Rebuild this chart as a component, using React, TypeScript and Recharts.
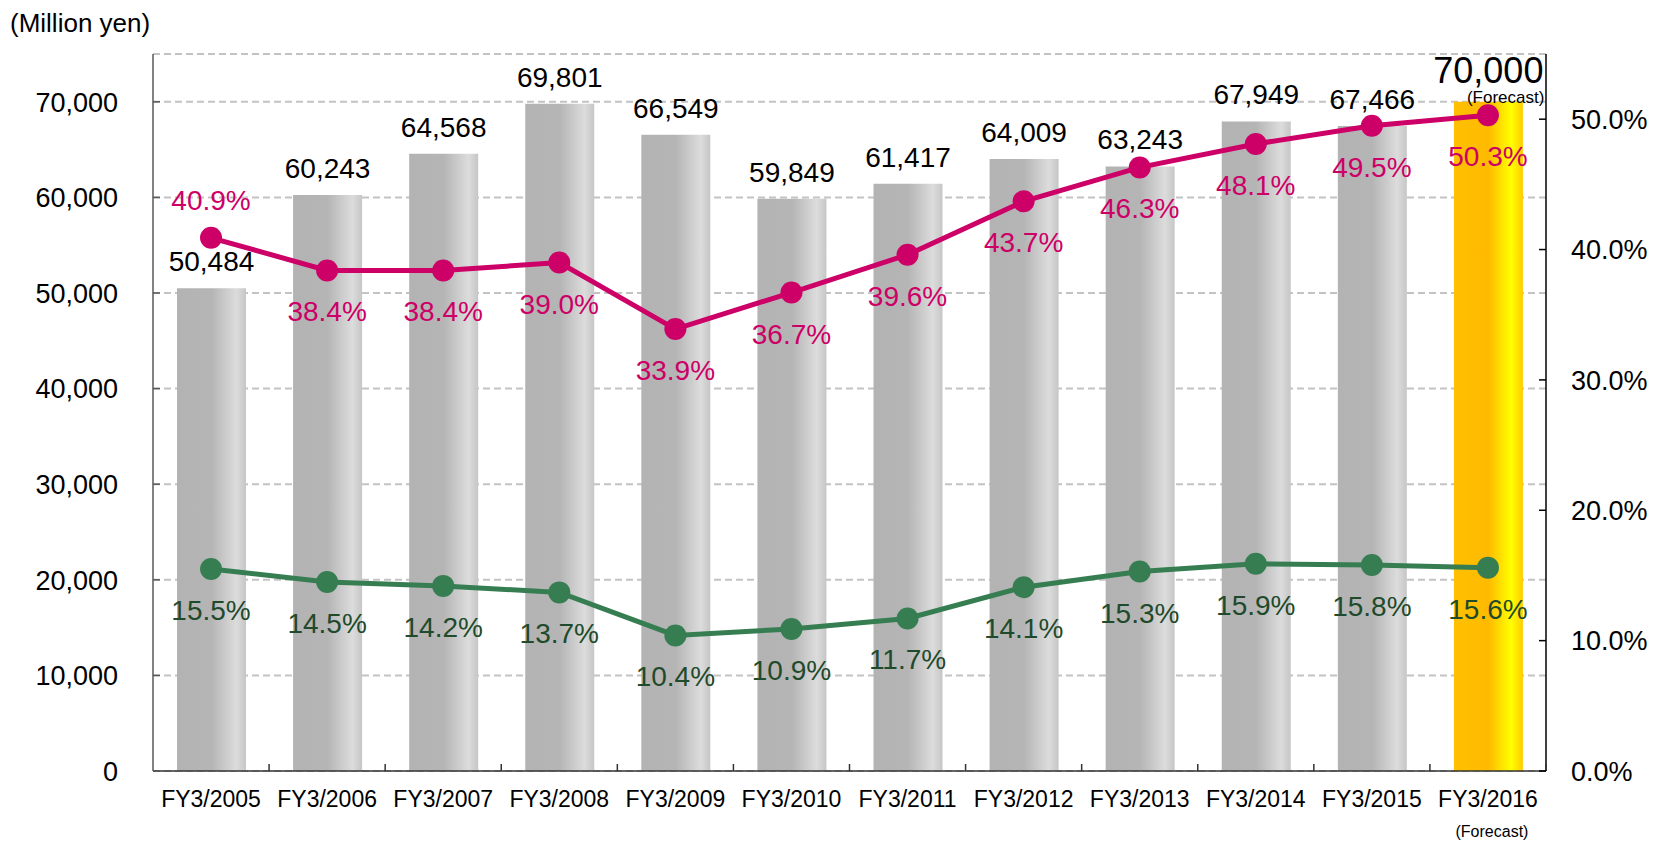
import {
  ComposedChart,
  Bar,
  Line,
  XAxis,
  YAxis,
  CartesianGrid,
  LabelList,
  Cell,
} from "recharts";

const years = [
  "FY3/2005",
  "FY3/2006",
  "FY3/2007",
  "FY3/2008",
  "FY3/2009",
  "FY3/2010",
  "FY3/2011",
  "FY3/2012",
  "FY3/2013",
  "FY3/2014",
  "FY3/2015",
  "FY3/2016",
];
const netSales = [
  50484, 60243, 64568, 69801, 66549, 59849, 61417, 64009, 63243, 67949, 67466,
  70000,
];
const grossRatio = [
  40.9, 38.4, 38.4, 39.0, 33.9, 36.7, 39.6, 43.7, 46.3, 48.1, 49.5, 50.3,
];
const operatingRatio = [
  15.5, 14.5, 14.2, 13.7, 10.4, 10.9, 11.7, 14.1, 15.3, 15.9, 15.8, 15.6,
];
const salesTicks = [0, 10000, 20000, 30000, 40000, 50000, 60000, 70000];
const ratioTicks = [0, 10, 20, 30, 40, 50];
const forecastIndex = 11;

const data = years.map((year, i) => ({
  year,
  sales: netSales[i],
  gross: grossRatio[i],
  operating: operatingRatio[i],
}));

const W = 1662;
const H = 844;
const PLOT_LEFT = 153;
const PLOT_RIGHT = 1546;
const PLOT_TOP = 54;
const PLOT_BOTTOM = 771;
const BAND = (PLOT_RIGHT - PLOT_LEFT) / years.length;
const FONT = "'Liberation Sans', Arial, Helvetica, sans-serif";

const PINK = "#cc0066";
const GREEN = "#367e52";
const GREEN_TEXT = "#1f4a2b";

function LeftTick(props: any) {
  const { y, payload } = props;
  return (
    <g>
      <line x1={PLOT_LEFT} x2={PLOT_LEFT + 7} y1={y} y2={y} stroke="#595959" strokeWidth={1.5} />
      <text x={118} y={y} dy="0.36em" textAnchor="end" fontSize={27} fill="#000">
        {Number(payload.value).toLocaleString("en-US")}
      </text>
    </g>
  );
}

function RightTick(props: any) {
  const { y, payload } = props;
  return (
    <g>
      <line x1={PLOT_RIGHT - 7} x2={PLOT_RIGHT} y1={y} y2={y} stroke="#000" strokeWidth={1.5} />
      <text x={1571} y={y} dy="0.36em" textAnchor="start" fontSize={27} fill="#000">
        {Number(payload.value).toFixed(1)}%
      </text>
    </g>
  );
}

function XTick(props: any) {
  const { x, payload, index } = props;
  return (
    <g>
      <line
        x1={x + BAND / 2}
        x2={x + BAND / 2}
        y1={PLOT_BOTTOM}
        y2={PLOT_BOTTOM - 7}
        stroke="#333"
        strokeWidth={1.5}
      />
      <text x={x} y={807} textAnchor="middle" fontSize={23} fill="#000">
        {payload.value}
      </text>
      {index === forecastIndex && (
        <text x={x + 4} y={837} textAnchor="middle" fontSize={16} fill="#000">
          (Forecast)
        </text>
      )}
    </g>
  );
}

function SalesLabel(props: any) {
  const x = Number(props.x);
  const y = Number(props.y);
  const width = Number(props.width);
  const { value, index } = props;
  const cx = x + width / 2;
  const txt = Number(value).toLocaleString("en-US");
  if (index === forecastIndex) {
    return (
      <g>
        <text x={cx + 55} y={y - 19} textAnchor="end" fontSize={36} fill="#000">
          {txt}
        </text>
        <text x={cx + 56} y={y + 1} textAnchor="end" fontSize={17} fill="#000">
          (Forecast)
        </text>
      </g>
    );
  }
  return (
    <text x={cx} y={y - 17} textAnchor="middle" fontSize={28} fill="#000">
      {txt}
    </text>
  );
}

const ratioLabel = (color: string, above: number[]) => (props: any) => {
  const x = Number(props.x);
  const y = Number(props.y);
  const { value, index } = props;
  return (
    <text
      x={x}
      y={above.includes(index) ? y - 28 : y + 51}
      textAnchor="middle"
      fontSize={28}
      fill={color}
    >
      {Number(value).toFixed(1)}%
    </text>
  );
};

export default function App() {
  return (
    <div
      style={{
        position: "absolute",
        left: 0,
        top: 0,
        width: W,
        height: H,
        background: "#fff",
        fontFamily: FONT,
      }}
    >
      <div
        style={{
          position: "absolute",
          left: 10,
          top: 10,
          fontSize: 26,
          lineHeight: 1,
          color: "#000",
          whiteSpace: "nowrap",
        }}
      >
        (Million yen)
      </div>
      <ComposedChart
        width={W}
        height={H}
        data={data}
        margin={{ top: PLOT_TOP, right: 0, bottom: 0, left: 0 }}
      >
        <defs>
          <linearGradient id="grayBar" x1="0" y1="0" x2="1" y2="0">
            <stop offset="0" stopColor="#b3b3b3" />
            <stop offset="0.5" stopColor="#b5b5b5" />
            <stop offset="0.86" stopColor="#dcdcdc" />
            <stop offset="1" stopColor="#c6c6c6" />
          </linearGradient>
          <linearGradient id="forecastBar" x1="0" y1="0" x2="1" y2="0">
            <stop offset="0" stopColor="#ffc000" />
            <stop offset="0.5" stopColor="#ffba00" />
            <stop offset="0.83" stopColor="#ffff00" />
            <stop offset="1" stopColor="#ffcc00" />
          </linearGradient>
        </defs>
        <CartesianGrid
          yAxisId="left"
          vertical={false}
          stroke="#c3c3c3"
          strokeWidth={2}
          strokeDasharray="7 4"
        />
        <XAxis
          dataKey="year"
          interval={0}
          height={PLOT_BOTTOM > 0 ? H - PLOT_BOTTOM : 73}
          tickLine={false}
          axisLine={{ stroke: "#333", strokeWidth: 1.5 }}
          tick={(p: any) => <XTick {...p} />}
        />
        <YAxis
          yAxisId="left"
          orientation="left"
          width={PLOT_LEFT}
          domain={[0, 75000]}
          ticks={salesTicks}
          interval={0}
          tickLine={false}
          axisLine={{ stroke: "#595959", strokeWidth: 1.5 }}
          tick={(p: any) => <LeftTick {...p} />}
        />
        <YAxis
          yAxisId="right"
          orientation="right"
          width={W - PLOT_RIGHT}
          domain={[0, 55]}
          ticks={ratioTicks}
          interval={0}
          tickLine={false}
          axisLine={{ stroke: "#000", strokeWidth: 1.5 }}
          tick={(p: any) => <RightTick {...p} />}
        />
        <Bar yAxisId="left" dataKey="sales" barSize={69} isAnimationActive={false}>
          {data.map((_, i) => (
            <Cell key={i} fill={i === forecastIndex ? "url(#forecastBar)" : "url(#grayBar)"} />
          ))}
          <LabelList dataKey="sales" content={(p: any) => <SalesLabel {...p} />} />
        </Bar>
        <Line
          yAxisId="right"
          dataKey="gross"
          stroke={PINK}
          strokeWidth={5}
          dot={{ r: 11, fill: PINK, stroke: "none" }}
          activeDot={false}
          isAnimationActive={false}
        >
          <LabelList dataKey="gross" content={ratioLabel(PINK, [0])} />
        </Line>
        <Line
          yAxisId="right"
          dataKey="operating"
          stroke={GREEN}
          strokeWidth={5}
          dot={{ r: 11, fill: GREEN, stroke: "none" }}
          activeDot={false}
          isAnimationActive={false}
        >
          <LabelList dataKey="operating" content={ratioLabel(GREEN_TEXT, [])} />
        </Line>
      </ComposedChart>
    </div>
  );
}
